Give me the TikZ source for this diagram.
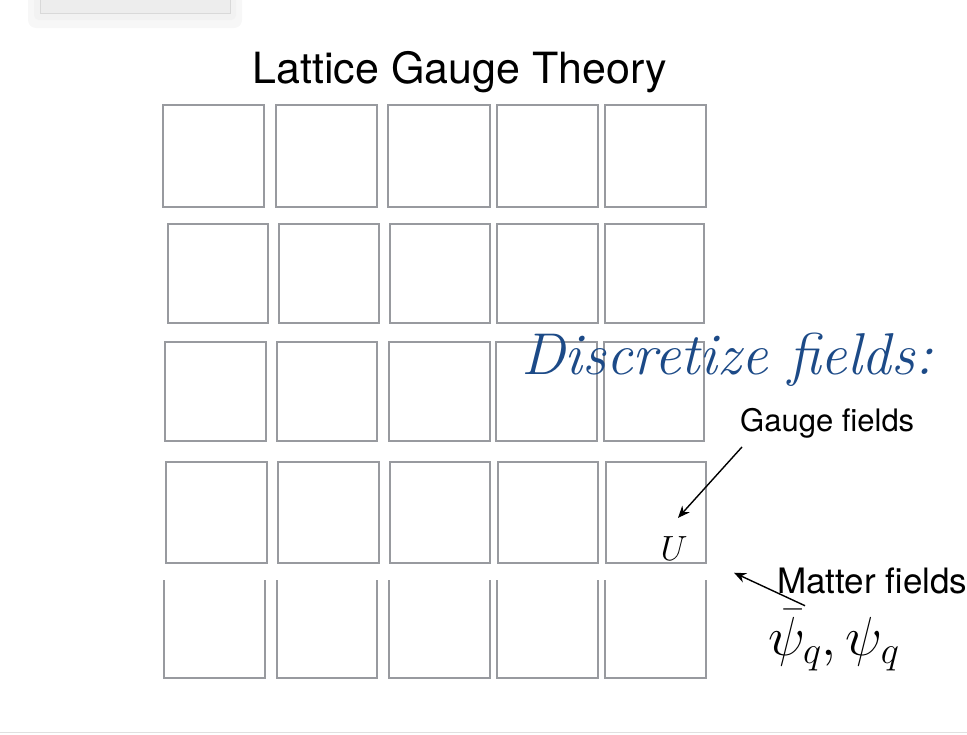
\RequirePackage{fix-cm}
\documentclass[tikz,border=0pt]{standalone}
\usepackage{amsmath}
\usepackage{fontspec}
\usepackage{tikz}
\usetikzlibrary{arrows.meta}
\newfontfamily\heros{TeX Gyre Heros}
\definecolor{cellgray}{RGB}{152,154,159}
\definecolor{slideblue}{RGB}{28,74,135}

\begin{document}
\begin{tikzpicture}[
  x=1pt, y=-1pt,
  every node/.style={inner sep=0pt},
  latcell/.style={draw=cellgray,line width=1.8pt},
  sidetext/.style={font={\heros\fontsize{31}{34}\selectfont}},
  arr/.style={-{Stealth[length=12pt,width=10pt]},line width=1.4pt}
]
  \useasboundingbox (0,0) rectangle (967,734);

  % cut-off popup in the corner
  \fill[black!3,rounded corners=8pt] (28,-10) rectangle (242,28);
  \fill[black!5,rounded corners=5pt] (34,-10) rectangle (236,20);
  \filldraw[fill=black!7,draw=black!15] (40,-2) rectangle (230,13);

  \node[anchor=base,font={\heros\fontsize{43}{46}\selectfont}] (title) at (460,83) {Lattice Gauge Theory};

  % the lattice, row by row
  \foreach \xa/\xb in {163/264,276/377,388/490,497/598,605/706}
    \draw[latcell] (\xa,105) rectangle (\xb,207);
  \foreach \xa/\xb in {168/268,279/379,390/490,497/598,605/704}
    \draw[latcell] (\xa,224) rectangle (\xb,323);
  \foreach \xa/\xb in {165/266,277/377,389/490,496/597,604/704}
    \draw[latcell] (\xa,342) rectangle (\xb,441);
  \foreach \xa/\xb in {166/267,278/379,390/490,498/598,606/706}
    \draw[latcell] (\xa,462) rectangle (\xb,563);
  \foreach \xa/\xb in {164/265,277/377,389/490,497/598,605/706}
    \draw[latcell] (\xa,580) -- (\xa,678) -- (\xb,678) -- (\xb,580);

  \node[anchor=base west,text=slideblue,font={\fontsize{59}{61}\selectfont}] (discr) at (521,374) {\textit{Discretize fields:}};

  \node[sidetext,anchor=base west] (gauge) at (740,431) {Gauge fields};
  \node[anchor=base,font={\fontsize{35}{37}\selectfont}] (linkU) at (674,560) {$U$};

  \node[sidetext,anchor=base west,font={\heros\fontsize{35}{37}\selectfont}] (matter) at (777,593) {Matter fields};
  \node[anchor=base west,font={\fontsize{55}{57}\selectfont}] (psis) at (768,655) {$\bar{\psi}_q,\psi_q$};

  \draw[arr] ([shift={(2,9)}]gauge.south west) -- ([shift={(4,-18)}]linkU.north);
  \draw[arr] ([shift={(28,12)}]matter.south west) -- ([shift={(-43,-21)}]matter.south west);

  \draw[black!12,line width=1pt] (0,732) -- (967,732);
\end{tikzpicture}
\end{document}
